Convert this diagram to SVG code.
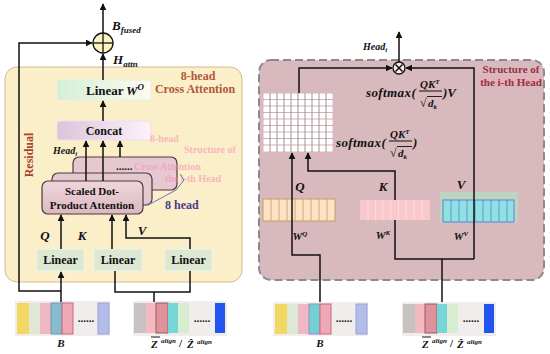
<svg xmlns="http://www.w3.org/2000/svg" width="550" height="354" viewBox="0 0 550 354">
<style>
.t{font-family:"Liberation Serif",serif;font-weight:bold;fill:#111}
.m{font-family:"Liberation Serif",serif;font-weight:bold;font-style:italic;fill:#111}
.ln{fill:none;stroke:#111;stroke-width:1.5}
.box{stroke:#4a3a3a;stroke-width:1.2}
.lin{fill:#dde8d2;stroke:#eef3e8;stroke-width:1}
.ghost{font-family:"Liberation Serif",serif;font-weight:bold;fill:#f590b8;opacity:0.6}
</style>
<defs>
<marker id="ah" viewBox="0 0 10 10" refX="9" refY="5" markerWidth="7" markerHeight="7" orient="auto" markerUnits="userSpaceOnUse">
<path d="M0,0 L10,5 L0,10 z" fill="#111"/>
</marker>
<linearGradient id="gWo" x1="0" x2="1" y1="0" y2="0"><stop offset="0" stop-color="#d4efd8"/><stop offset="1" stop-color="#fffaf0"/></linearGradient>
<linearGradient id="gCc" x1="0" x2="1" y1="0" y2="0"><stop offset="0" stop-color="#dcc4dc"/><stop offset="1" stop-color="#fdf2f8"/></linearGradient>
<linearGradient id="gSd" x1="0" x2="0" y1="0" y2="1"><stop offset="0" stop-color="#efd6dc"/><stop offset="1" stop-color="#dcb8c0"/></linearGradient>
</defs>

<!-- Left panel -->
<g id="left-panel">
<rect x="5" y="67" width="237" height="215" rx="12" fill="#fbefc9" stroke="#d8b890" stroke-width="1"/>
<text class="t" x="198" y="80" font-size="12" text-anchor="middle" style="fill:#b0583a">8-head</text>
<text class="t" x="195" y="93" font-size="12" text-anchor="middle" style="fill:#b0583a">Cross Attention</text>
<text class="t" x="29" y="155" font-size="12" text-anchor="middle" transform="rotate(-90 29 155)" dy="4" style="fill:#a8452e">Residual</text>
</g>

<g id="plus">
<circle cx="103" cy="43" r="10" fill="#fdf2c0" stroke="#111" stroke-width="1.3"/>
<line x1="93" y1="43" x2="113" y2="43" stroke="#111" stroke-width="1.3"/>
<line x1="103" y1="33" x2="103" y2="53" stroke="#111" stroke-width="1.3"/>
</g>
<g id="label-bfused">
<text class="m" x="112" y="30" font-size="13">B<tspan font-size="9" dy="3">fused</tspan></text>
</g>
<g id="label-hattn">
<text class="m" x="113" y="64" font-size="13">H<tspan font-size="9" dy="3">attn</tspan></text>
</g>

<g id="linear-wo">
<rect x="57" y="80" width="94" height="20" rx="2" fill="url(#gWo)" stroke="#e8f0e0"/>
<text class="t" x="86" y="95" font-size="13">Linear</text>
<text class="m" x="126" y="95" font-size="13">W<tspan font-size="9" dy="-5">O</tspan></text>
</g>
<g id="concat">
<rect x="57" y="121" width="94" height="19" rx="3" fill="url(#gCc)" stroke="#ece0ea"/>
<text class="t" x="104" y="135" font-size="12" text-anchor="middle">Concat</text>
</g>
<text class="m" x="53" y="154" font-size="10">Head<tspan font-size="7" dy="2">i</tspan></text>

<g id="sdpa-stack">
<rect class="box" x="73" y="157" width="104" height="33" rx="6" fill="#e8c8d0"/>
<text class="t" x="116" y="170" font-size="11">......</text>
<rect class="box" x="52" y="173" width="100" height="32" rx="6" fill="#e6c8cf"/>
<rect class="box" x="42" y="181" width="101" height="33" rx="6" fill="url(#gSd)"/>
<text class="t" x="92" y="195" font-size="11" text-anchor="middle">Scaled Dot-</text>
<text class="t" x="92" y="209" font-size="11" text-anchor="middle">Product Attention</text>
</g>

<!-- ghost texts -->
<g id="ghost-text">
<text class="ghost" x="150" y="142" font-size="10">8-head</text>
<text class="ghost" x="184" y="153" font-size="10">Structure of</text>
<text class="ghost" x="134" y="170" font-size="10">Cross Attention</text>
<text class="ghost" x="165" y="182" font-size="10">the i-th Head</text>
</g>

<g id="eight-head">
<path d="M145,205 L152,203 L176,190 L184,180 L180,174" fill="none" stroke="#7a6ac8" stroke-width="1"/>
<text class="t" x="165" y="209" font-size="12" style="fill:#4a3a90">8 head</text>
</g>

<g id="linear-1"><rect class="lin" x="37" y="249" width="47" height="22"/><text class="t" x="60.5" y="264" font-size="12" text-anchor="middle">Linear</text></g>
<g id="linear-2"><rect class="lin" x="94" y="249" width="48" height="22"/><text class="t" x="118" y="264" font-size="12" text-anchor="middle">Linear</text></g>
<g id="linear-3"><rect class="lin" x="165" y="249" width="47" height="22"/><text class="t" x="188.5" y="264" font-size="12" text-anchor="middle">Linear</text></g>

<text class="m" x="45" y="240" font-size="13" text-anchor="middle">Q</text>
<text class="m" x="82" y="240" font-size="13" text-anchor="middle">K</text>
<text class="m" x="142" y="235" font-size="13" text-anchor="middle">V</text>

<!-- input strips left -->
<g id="strip-b-left">
<rect x="15" y="301" width="95" height="35" fill="#f1eded"/>
<rect x="17" y="303" width="12" height="31" fill="#f0d862"/>
<rect x="29" y="303" width="11" height="31" fill="#dfe8d6"/>
<rect x="40" y="303" width="11" height="31" fill="#f0b8c2"/>
<rect x="51" y="303" width="11" height="31" fill="#86bccb" stroke="#6a9ab8"/>
<rect x="62" y="303" width="11" height="31" fill="#f0a8b8" stroke="#c86878"/>
<text class="t" x="86" y="322" font-size="11" text-anchor="middle">......</text>
<rect x="98" y="303" width="11" height="31" fill="#b4bce8" stroke="#98a2d8"/>
<text class="m" x="61" y="347" font-size="11" text-anchor="middle">B</text>
</g>
<g id="strip-z-left">
<rect x="133" y="301" width="94" height="35" fill="#f1eded"/>
<rect x="134" y="303" width="12" height="30" fill="#c8c2c2"/>
<rect x="146" y="303" width="10" height="30" fill="#f4bac2"/>
<rect x="156" y="303" width="12" height="30" fill="#e0929c" stroke="#9a5a62"/>
<rect x="168" y="303" width="10" height="30" fill="#74d6d6"/>
<rect x="178" y="303" width="11" height="30" fill="#d8ecd0"/>
<text class="t" x="202" y="322" font-size="11" text-anchor="middle">......</text>
<rect x="215" y="303" width="10" height="30" fill="#2254f0"/>
<text class="m" x="151" y="348" font-size="11">Z</text>
<line x1="151" y1="337" x2="160" y2="337" stroke="#111" stroke-width="1"/>
<text class="m" x="161" y="343" font-size="7">align</text>
<text class="t" x="179" y="347" font-size="11">/</text>
<text class="m" x="187" y="348" font-size="11">Ẑ</text>
<text class="m" x="197" y="344" font-size="7">align</text>
</g>

<!-- Right panel -->
<g id="right-panel">
<rect x="259" y="60" width="285" height="220" rx="12" fill="#d8b9bd" stroke="#8a8a8a" stroke-width="2" stroke-dasharray="8 4"/>
<rect x="478" y="75" width="64" height="12" fill="#e6aeb8" opacity="0.6"/>
<text class="t" x="511" y="73" font-size="11" text-anchor="middle" style="fill:#9a3040">Structure of</text>
<text class="t" x="511" y="86" font-size="11" text-anchor="middle" style="fill:#9a3040">the  i-th Head</text>
</g>

<g id="otimes">
<circle cx="399" cy="68" r="6" fill="#f6ecec" stroke="#111" stroke-width="1.3"/>
<path d="M395.5,64.5 L402.5,71.5 M402.5,64.5 L395.5,71.5" stroke="#111" stroke-width="1.5"/>
</g>
<text class="m" x="363" y="50" font-size="10">Head<tspan font-size="7" dy="2">i</tspan></text>

<g id="formula-1">
<text class="m" x="366" y="97" font-size="13" letter-spacing="0.4">softmax(</text>
<text class="m" x="420" y="88" font-size="11">QK<tspan font-size="7" dy="-4">T</tspan></text>
<line x1="419" y1="91" x2="442" y2="91" stroke="#111" stroke-width="1"/>
<text class="t" x="420" y="107" font-size="12">√</text>
<line x1="427" y1="96.5" x2="442" y2="96.5" stroke="#111" stroke-width="0.9"/>
<text class="m" x="428" y="107" font-size="11">d<tspan font-size="7" dy="2">k</tspan></text>
<text class="m" x="443" y="97" font-size="13">)V</text>
</g>
<g id="formula-2">
<text class="m" x="336" y="147" font-size="13" letter-spacing="0.4">softmax(</text>
<text class="m" x="390" y="138" font-size="11">QK<tspan font-size="7" dy="-4">T</tspan></text>
<line x1="389" y1="141" x2="412" y2="141" stroke="#111" stroke-width="1"/>
<text class="t" x="390" y="157" font-size="12">√</text>
<line x1="397" y1="146.5" x2="412" y2="146.5" stroke="#111" stroke-width="0.9"/>
<text class="m" x="398" y="157" font-size="11">d<tspan font-size="7" dy="2">k</tspan></text>
<text class="m" x="413" y="147" font-size="13">)</text>
</g>

<g id="attention-grid">
<rect x="263" y="93" width="70" height="59" fill="#ffffff" stroke="#e0b8c0" stroke-width="1"/>
<path d="M270,93V152M277,93V152M284,93V152M291,93V152M298,93V152M305,93V152M312,93V152M319,93V152M326,93V152" stroke="#6a6a6a" stroke-width="0.7"/>
<path d="M263,99.5H333M263,106H333M263,112.5H333M263,119H333M263,125.5H333M263,132H333M263,138.5H333M263,145H333" stroke="#c88a98" stroke-width="0.7"/>
</g>

<g id="wq">
<rect x="263" y="199" width="72" height="22" fill="#fde2c6" stroke="#c8a060" stroke-width="1"/>
<path d="M271,199V221M279,199V221M287,199V221M295,199V221M303,199V221M311,199V221M319,199V221M327,199V221" stroke="#c8a060" stroke-width="0.8"/>
</g>
<g id="wk">
<rect x="360" y="200" width="70" height="20" fill="#f8c8cc"/>
<path d="M368,200V220M375.5,200V220M383,200V220M391,200V220M398.5,200V220M406,200V220M414,200V220M422,200V220" stroke="#fde0e2" stroke-width="0.8"/>
</g>
<g id="wv">
<rect x="440" y="192" width="78" height="31" fill="#b6dcc0" opacity="0.8"/>
<rect x="443" y="200" width="71" height="22" fill="#8ee2e2" stroke="#6a7ad8" stroke-width="1"/>
<path d="M451,200V222M459,200V222M467,200V222M475,200V222M483,200V222M491,200V222M499,200V222M507,200V222" stroke="#6a7ad8" stroke-width="0.8"/>
</g>

<text class="m" x="300" y="191" font-size="13" text-anchor="middle">Q</text>
<text class="m" x="383" y="191" font-size="13" text-anchor="middle">K</text>
<text class="m" x="461" y="189" font-size="13" text-anchor="middle">V</text>
<text class="m" x="300" y="240" font-size="11" text-anchor="middle">W<tspan font-size="7" dy="-4">Q</tspan></text>
<text class="m" x="383" y="239" font-size="11" text-anchor="middle">W<tspan font-size="7" dy="-4">K</tspan></text>
<text class="m" x="461" y="240" font-size="11" text-anchor="middle">W<tspan font-size="7" dy="-4">V</tspan></text>

<g id="strip-b-right">
<rect x="273" y="302" width="95" height="34" fill="#f1eded"/>
<rect x="275" y="304" width="12" height="30" fill="#f0d862"/>
<rect x="287" y="304" width="11" height="30" fill="#dfe8d6"/>
<rect x="298" y="304" width="11" height="30" fill="#f0b8c2"/>
<rect x="309" y="304" width="11" height="30" fill="#74d0d0" stroke="#9a8ad0"/>
<rect x="320" y="304" width="11" height="30" fill="#f0a8b8" stroke="#c86878"/>
<text class="t" x="344" y="322" font-size="11" text-anchor="middle">......</text>
<rect x="356" y="304" width="11" height="30" fill="#b4bce8" stroke="#98a2d8"/>
<text class="m" x="320" y="347" font-size="11" text-anchor="middle">B</text>
</g>
<g id="strip-z-right">
<rect x="402" y="302" width="94" height="34" fill="#f1eded"/>
<rect x="403" y="304" width="12" height="29" fill="#c8c2c2"/>
<rect x="415" y="304" width="10" height="29" fill="#f4bac2"/>
<rect x="425" y="304" width="12" height="29" fill="#e0929c" stroke="#9a5a62"/>
<rect x="437" y="304" width="10" height="29" fill="#74d6d6"/>
<rect x="447" y="304" width="11" height="29" fill="#d8ecd0"/>
<text class="t" x="471" y="322" font-size="11" text-anchor="middle">......</text>
<rect x="484" y="304" width="10" height="29" fill="#2254f0"/>
<text class="m" x="422" y="348" font-size="11">Z</text>
<line x1="422" y1="337" x2="431" y2="337" stroke="#111" stroke-width="1"/>
<text class="m" x="432" y="343" font-size="7">align</text>
<text class="t" x="450" y="347" font-size="11">/</text>
<text class="m" x="457" y="348" font-size="11">Ẑ</text>
<text class="m" x="467" y="344" font-size="7">align</text>
</g>

<!-- connectors -->
<g id="connectors" class="ln">
<path class="ln" d="M103,33 V4" marker-end="url(#ah)"/>
<path class="ln" d="M103,80 V54" marker-end="url(#ah)"/>
<path class="ln" d="M103,121 V101" marker-end="url(#ah)"/>
<path class="ln" d="M86,181 V141" marker-end="url(#ah)"/>
<path class="ln" d="M103,181 V141" marker-end="url(#ah)"/>
<path class="ln" d="M120,157 V141" marker-end="url(#ah)"/>
<path class="ln" d="M61,291 H19 V43 H92" marker-end="url(#ah)"/>
<path class="ln" d="M61,302 V272" marker-end="url(#ah)"/>
<path class="ln" d="M61,249 V215" marker-end="url(#ah)"/>
<path class="ln" d="M112,249 V215" marker-end="url(#ah)"/>
<path class="ln" d="M190,249 V238 H126 V215" marker-end="url(#ah)"/>
<path class="ln" d="M115,271 V292 H190 V271"/>
<path class="ln" d="M154,292 V302"/>
<path class="ln" d="M399,62 V32" marker-end="url(#ah)"/>
<path class="ln" d="M299,93 V68 H392" marker-end="url(#ah)"/>
<path class="ln" d="M474,259 V68 H406" marker-end="url(#ah)"/>
<path class="ln" d="M320,302 V255 H292 V153" marker-end="url(#ah)"/>
<path class="ln" d="M395,200 V171 H308 V153" marker-end="url(#ah)"/>
<path class="ln" d="M395,220 V259 H474"/>
<path class="ln" d="M442,259 V302"/>
</g>
</svg>
